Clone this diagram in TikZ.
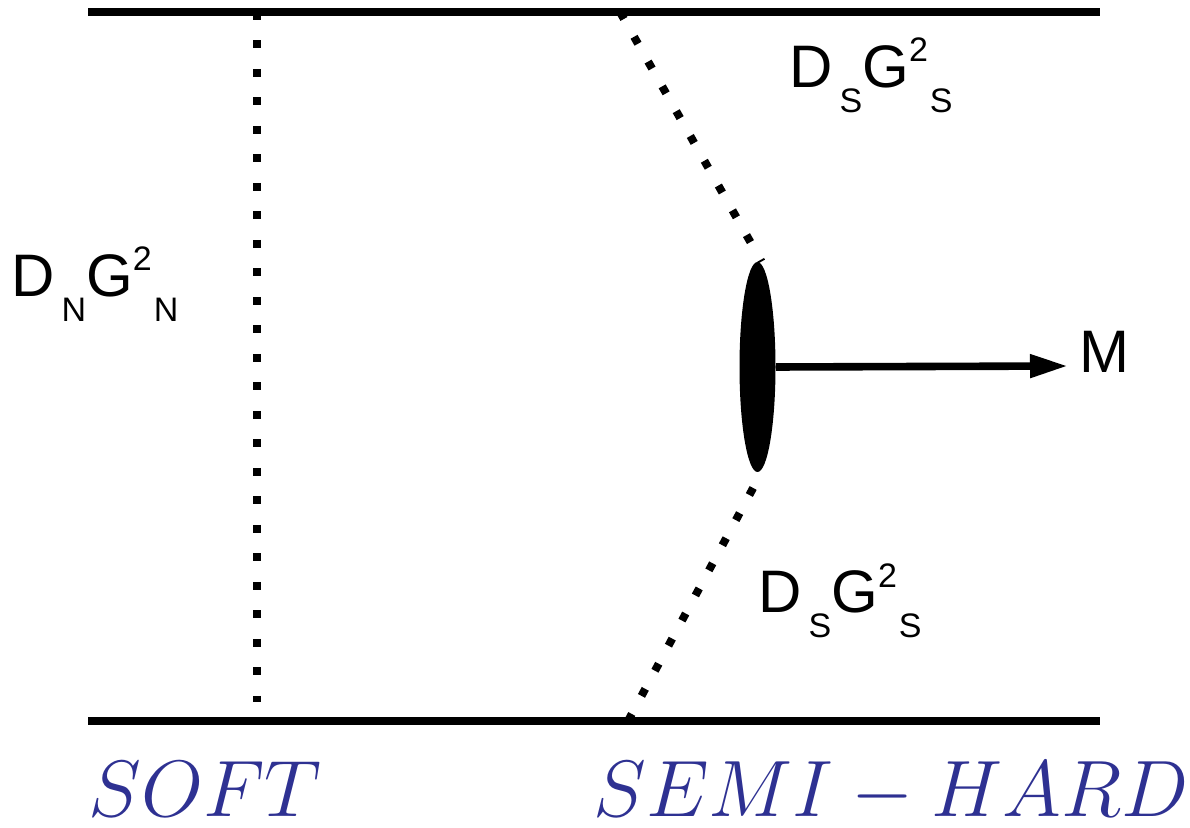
\RequirePackage{fix-cm}
\documentclass[tikz,border=0pt]{standalone}
\usepackage{fontspec}
\setmainfont{Liberation Sans}
\usetikzlibrary{arrows.meta,shapes.geometric}
\definecolor{labelblue}{RGB}{46,49,146}
\tikzset{
  rail/.style={line width=3.6pt},
  dotline/.style={line width=4pt, dash pattern=on 4pt off 10.25pt},
  lbl/.style={anchor=base west, inner sep=0pt, font=\fontsize{30}{36}\selectfont},
  region/.style={anchor=base west, inner sep=0pt, text=labelblue, font=\fontsize{40}{48}\selectfont},
  blobstyle/.style={ellipse, fill=black, draw=none, inner sep=0pt, minimum width=18pt, minimum height=105pt},
}
\newcommand{\sbs}[1]{\raisebox{-12.5pt}{\fontsize{17}{20}\selectfont #1}}
\newcommand{\sps}[1]{\raisebox{13pt}{\fontsize{17}{20}\selectfont #1}}
\begin{document}
\begin{tikzpicture}[x=0.5pt,y=-0.5pt]
\useasboundingbox (0,0) rectangle (1190,828);
% rails
\coordinate (tl) at (88,12);
\coordinate (tr) at (1100,12);
\coordinate (bl) at (88,721);
\coordinate (br) at (1100,721);
\draw[rail] (tl) -- (tr);
\draw[rail] (bl) -- (br);
% blob and arrow
\node[blobstyle] (blob) at (757.5,367) {};
\coordinate (tip) at (1068,366);
\draw[line width=3.8pt, -{Triangle[length=19pt,width=11pt]}] (blob.east) -- (tip);
% dotted exchanges
\coordinate (s1) at (257,12);
\coordinate (s2) at (257,702);
\draw[dotline] (s1) -- (s2);
\coordinate (u1) at (620,12);
\draw[dotline] (u1) -- ([xshift=2pt]blob.north);
\coordinate (l2) at (628,721);
\draw[dotline] (l2) -- ([xshift=2pt]blob.south);
% labels
\node[lbl] (dn) at (11,297) {D\kern3.5pt\sbs{N}G\sps{2}\kern1pt\sbs{N}};
\node[lbl] (ds1) at (789,88) {D\kern3.5pt\sbs{S}G\sps{2}\kern1pt\sbs{S}};
\node[lbl] (ds2) at (758,613) {D\kern3.5pt\sbs{S}G\sps{2}\kern1pt\sbs{S}};
\node[lbl] (m) at (1079,373) {M};
\node[region] (soft) at (88,816) {$SOFT$};
\node[region] (semi) at (593,816) {$SEMI-HARD$};
\end{tikzpicture}
\end{document}
